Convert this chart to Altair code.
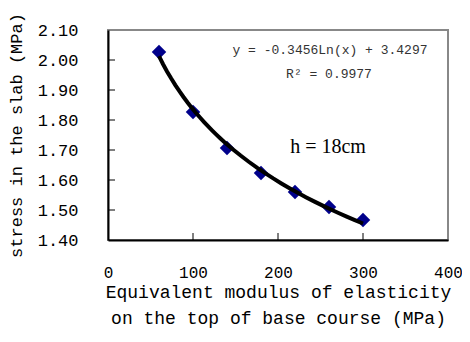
import altair as alt
import pandas as pd

modulus = [60, 100, 140, 180, 220, 260, 300]
stress = [2.027, 1.827, 1.707, 1.623, 1.560, 1.510, 1.467]
x_ticks = [0, 100, 200, 300, 400]
y_ticks = [1.40, 1.50, 1.60, 1.70, 1.80, 1.90, 2.00, 2.10]
eq_text = "y = -0.3456Ln(x) + 3.4297"
r2_text = "R² = 0.9977"
h_text = "h = 18cm"

W, H = 340, 210
df = pd.DataFrame({"x": modulus, "y": stress})
MONO = "Liberation Mono"

xscale = alt.Scale(domain=[0, 400], nice=False)
yscale = alt.Scale(domain=[1.4, 2.1], nice=False, zero=False)

xaxis = alt.Axis(values=x_ticks, ticks=False, grid=False, domainColor="black", domainWidth=2,
                 labelFont=MONO, labelFontSize=16, labelColor="black", labelPadding=24,
                 labelFlush=False, labelOverlap=False,
                 title=["Equivalent modulus of elasticity", "on the top of base course (MPa)"],
                 titleFont=MONO, titleFontSize=18, titleFontWeight="normal",
                 titleColor="black", titlePadding=3, titleLineHeight=26)
yaxis = alt.Axis(values=y_ticks, format=".2f", ticks=False, grid=False, domainColor="black", domainWidth=2,
                 labelFont=MONO, labelFontSize=17, labelColor="black", labelPadding=30,
                 labelFlush=False, labelOverlap=False,
                 title="stress in the slab (MPa)", titleFont=MONO, titleFontSize=17,
                 titleFontWeight="normal", titleColor="black", titlePadding=12)

base = alt.Chart(df)

points = base.mark_point(shape="diamond", filled=True, size=210, color="#00008B", opacity=1).encode(
    x=alt.X("x:Q", scale=xscale, axis=xaxis, title=xaxis.title),
    y=alt.Y("y:Q", scale=yscale, axis=yaxis, title=yaxis.title),
)

trend = base.transform_regression("x", "y", method="log", extent=[60, 300]).mark_line(
    color="black", strokeWidth=4
).encode(x=alt.X("x:Q", scale=xscale, axis=xaxis, title=xaxis.title),
         y=alt.Y("y:Q", scale=yscale, axis=yaxis, title=yaxis.title))

xt = alt.Chart(pd.DataFrame({"v": x_ticks[1:-1]})).mark_rule(color="black", strokeWidth=1).encode(
    x=alt.X("v:Q", scale=xscale, axis=xaxis, title=xaxis.title), y=alt.value(H), y2=alt.value(H - 7))
yt = alt.Chart(pd.DataFrame({"v": y_ticks[1:-1]})).mark_rule(color="black", strokeWidth=1).encode(
    y=alt.Y("v:Q", scale=yscale, axis=yaxis, title=yaxis.title), x=alt.value(0), x2=alt.value(7))

eq = alt.Chart(pd.DataFrame({"t": [eq_text]})).mark_text(
    font=MONO, fontSize=13, color="#333333", align="center", baseline="middle"
).encode(text="t:N", x=alt.value(222), y=alt.value(20))
r2 = alt.Chart(pd.DataFrame({"t": [r2_text]})).mark_text(
    font=MONO, fontSize=13, color="#333333", align="center", baseline="middle"
).encode(text="t:N", x=alt.value(221), y=alt.value(44))
h = alt.Chart(pd.DataFrame({"t": [h_text]})).mark_text(
    font="Liberation Serif", fontSize=20, color="black", align="center", baseline="middle"
).encode(text="t:N", x=alt.value(220), y=alt.value(117))

chart = alt.layer(points, trend, xt, yt, eq, r2, h).properties(
    width=W, height=H,
    autosize=alt.AutoSizeParams(type="none"),
    padding={"left": 100, "top": 22, "right": 14, "bottom": 94},
).configure_view(stroke="#888888", strokeWidth=2)

chart.save("out.html", embed_options={"renderer": "svg", "actions": False})
